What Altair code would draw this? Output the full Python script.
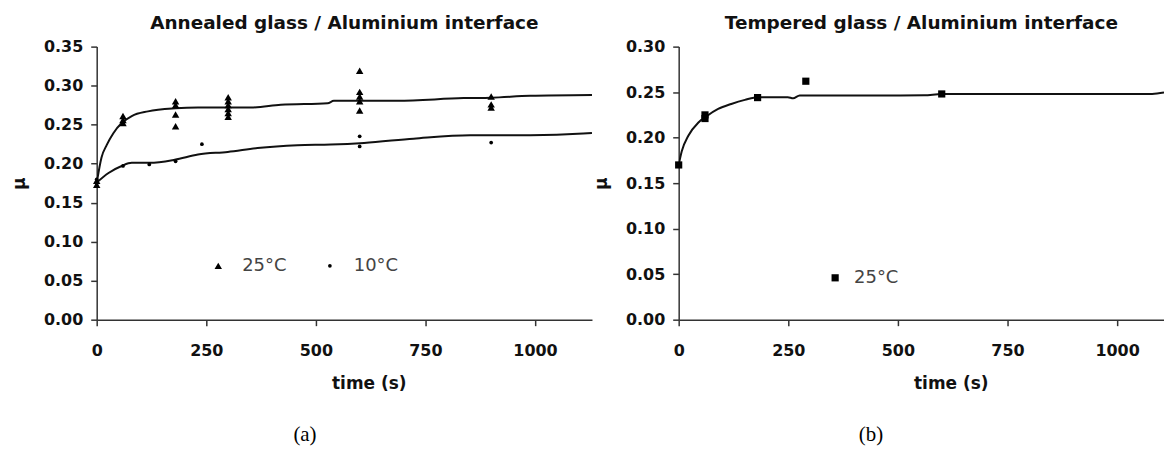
import altair as alt
import pandas as pd

# ---------------- data: panel (a) annealed glass ----------------
a25_t = [0, 0, 60, 60, 60, 180, 180, 180, 180, 300, 300, 300, 300, 300, 300,
         600, 600, 600, 600, 600, 900, 900, 900]
a25_mu = [0.178, 0.173, 0.261, 0.256, 0.252, 0.280, 0.275, 0.263, 0.248,
          0.285, 0.280, 0.275, 0.270, 0.265, 0.260,
          0.319, 0.292, 0.286, 0.280, 0.268, 0.286, 0.276, 0.272]
a10_t = [0, 0, 60, 120, 180, 240, 600, 600, 900]
a10_mu = [0.180, 0.175, 0.197, 0.199, 0.203, 0.225, 0.235, 0.222, 0.227]

fit25_t = [0, 11, 23, 38, 57, 80, 117, 180, 231, 300, 352, 420, 527, 541, 600,
           686, 837, 900, 989, 1130]
fit25_mu = [0.175, 0.208, 0.224, 0.239, 0.252, 0.261, 0.267, 0.271, 0.272, 0.272,
            0.272, 0.2755, 0.2775, 0.2805, 0.2805, 0.2805, 0.284, 0.2845, 0.287, 0.288]
fit10_t = [0, 27, 57, 80, 121, 178, 231, 299, 367, 458, 534, 610, 723, 852, 989,
           1110, 1130]
fit10_mu = [0.1757, 0.188, 0.197, 0.201, 0.201, 0.205, 0.2117, 0.215, 0.220, 0.2236,
            0.2245, 0.2266, 0.232, 0.2364, 0.2364, 0.2385, 0.2393]

# ---------------- data: panel (b) tempered glass ----------------
b25_t = [0, 60, 60, 180, 290, 600]
b25_mu = [0.170, 0.225, 0.221, 0.244, 0.262, 0.248]
fitb_t = [0, 7, 22, 45, 62, 90, 120, 151, 181, 249, 261, 276, 504, 560, 600, 1080, 1107]
fitb_mu = [0.170, 0.185, 0.202, 0.2167, 0.223, 0.2315, 0.237, 0.2415, 0.2445, 0.2445,
           0.2433, 0.2463, 0.2463, 0.2465, 0.248, 0.248, 0.2495]

labels_a = ["25°C", "10°C"]
labels_b = ["25°C"]
x_ticks = [0, 250, 500, 750, 1000]
y_ticks_a = [0, 0.05, 0.10, 0.15, 0.20, 0.25, 0.30, 0.35]
y_ticks_b = [0, 0.05, 0.10, 0.15, 0.20, 0.25, 0.30]

W_A, W_B, H = 497, 487, 274
FONT = "DejaVu Sans"

pts_a = pd.DataFrame({
    "t": a25_t + a10_t,
    "mu": a25_mu + a10_mu,
    "series": [labels_a[0]] * len(a25_t) + [labels_a[1]] * len(a10_t),
})
fit_a = pd.DataFrame({
    "t": fit25_t + fit10_t,
    "mu": fit25_mu + fit10_mu,
    "curve": ["25"] * len(fit25_t) + ["10"] * len(fit10_t),
})
pts_b = pd.DataFrame({"t": b25_t, "mu": b25_mu, "series_b": [labels_b[0]] * len(b25_t)})
fit_b = pd.DataFrame({"t": fitb_t, "mu": fitb_mu})


def x_enc(dmax, title_x):
    return alt.X("t:Q", scale=alt.Scale(domain=[0, dmax], nice=False, zero=False),
                 axis=alt.Axis(values=x_ticks, title="time (s)", titleX=title_x,
                               labelFlush=False, labelOverlap=False, format="d"))


def y_enc(dmax, ticks):
    return alt.Y("mu:Q", scale=alt.Scale(domain=[0, dmax], nice=False),
                 axis=alt.Axis(values=ticks, title="μ", format=".2f",
                               labelFlush=False, labelOverlap=False))


def legend(x, y, offset, colpad):
    return alt.Legend(orient="none", legendX=x, legendY=y, direction="horizontal",
                      title=None, labelFontSize=18, labelFont=FONT, labelColor="#444",
                      labelOffset=offset, columnPadding=colpad, padding=0,
                      symbolFillColor="black", symbolStrokeColor="black")


# ---------------- panel (a) ----------------
xa = x_enc(1130, 273)
ya = y_enc(0.35, y_ticks_a)
lines_a = alt.Chart(fit_a).mark_line(color="#111", strokeWidth=2, interpolate="monotone",
                                     clip=True).encode(x=xa, y=ya, detail="curve:N")
points_a = alt.Chart(pts_a).mark_point(filled=True, color="black", opacity=1).encode(
    x=xa, y=ya,
    shape=alt.Shape("series:N", scale=alt.Scale(domain=labels_a, range=["triangle-up", "circle"]),
                    legend=legend(113, 211, 15, 34)),
    size=alt.Size("series:N", scale=alt.Scale(domain=labels_a, range=[56, 14]),
                  legend=legend(113, 211, 15, 34)),
)
tag_a = alt.Chart(pd.DataFrame({"tag": ["(a)"]})).mark_text(
    font="Liberation Serif", fontSize=21, color="black", baseline="middle", align="center"
).encode(text="tag:N", x=alt.value(209), y=alt.value(390))

panel_a = alt.layer(lines_a, points_a, tag_a).properties(
    width=W_A, height=H,
    title=alt.TitleParams("Annealed glass / Aluminium interface", anchor="middle", offset=6))

# ---------------- panel (b) ----------------
xb = x_enc(1107, 273)
yb = y_enc(0.30, y_ticks_b)
lines_b = alt.Chart(fit_b).mark_line(color="#111", strokeWidth=2, interpolate="monotone",
                                     clip=True).encode(x=xb, y=yb)
points_b = alt.Chart(pts_b).mark_point(filled=True, color="black", opacity=1).encode(
    x=xb, y=yb,
    shape=alt.Shape("series_b:N", scale=alt.Scale(domain=labels_b, range=["square"]),
                    legend=alt.Legend(orient="none", legendX=148, legendY=223, direction="horizontal",
                                      title=None, labelFontSize=18, labelFont=FONT, labelColor="#444",
                                      labelOffset=10, padding=0, symbolSize=52,
                                      symbolFillColor="black", symbolStrokeColor="black")),
    size=alt.value(52),
)
tag_b = alt.Chart(pd.DataFrame({"tag": ["(b)"]})).mark_text(
    font="Liberation Serif", fontSize=21, color="black", baseline="middle", align="center"
).encode(text="tag:N", x=alt.value(193), y=alt.value(390))

panel_b = alt.layer(lines_b, points_b, tag_b).properties(
    width=W_B, height=H,
    title=alt.TitleParams("Tempered glass / Aluminium interface", anchor="middle", offset=6))

chart = alt.hconcat(panel_a, panel_b, spacing=0).resolve_scale(
    shape="independent", size="independent"
).resolve_legend(shape="independent", size="independent").configure(
    padding={"left": 2, "top": 5, "right": 0, "bottom": 0}, font=FONT
).configure_view(stroke=None).configure_axis(
    grid=False, domainColor="#333", domainWidth=1.5, tickColor="#333", tickWidth=1.5,
    tickSize=6, labelFont=FONT, labelFontSize=16, labelFontWeight="bold", labelColor="#111",
    titleFont=FONT, titleFontSize=17, titleFontWeight="bold", titleColor="#111"
).configure_axisY(labelPadding=8, titlePadding=15).configure_axisX(
    labelPadding=17, titlePadding=17
).configure_title(font=FONT, fontSize=18.5, fontWeight="bold", color="#111")

chart.save("out.html", embed_options={"renderer": "svg", "actions": False})
